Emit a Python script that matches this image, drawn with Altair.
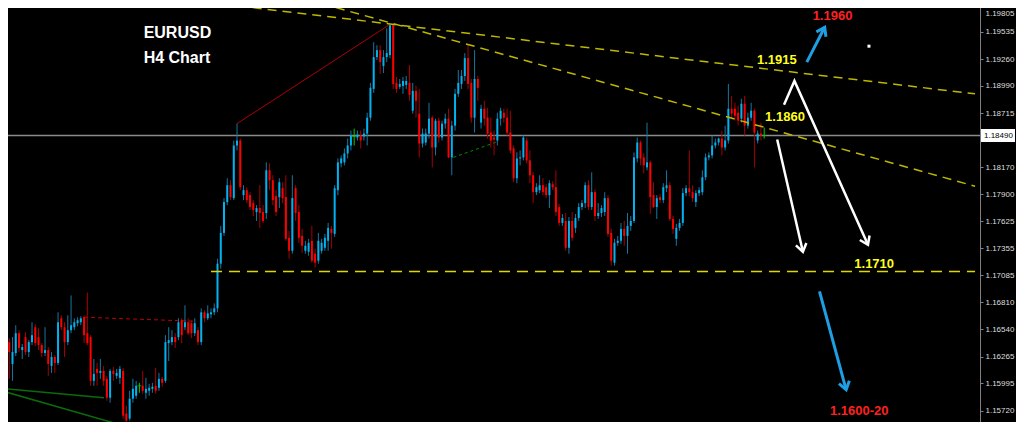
import altair as alt
import pandas as pd

# ---------------- candle data (H4 EURUSD) ----------------
open_ = [
1.1615,1.1641,1.1619,1.1630,1.1650,1.1633,1.1646,1.1631,1.1641,1.1656,
1.1646,1.1638,1.1630,1.1633,1.1617,1.1626,1.1620,1.1665,1.1656,1.1641,
1.1653,1.1656,1.1660,1.1661,1.1666,1.1650,1.1646,1.1602,1.1614,1.1610,
1.1612,1.1604,1.1585,1.1612,1.1607,1.1605,1.1612,1.1569,1.1564,1.1584,
1.1587,1.1597,1.1597,1.1590,1.1592,1.1594,1.1597,1.1595,1.1604,1.1602,
1.1640,1.1641,1.1646,1.1646,1.1663,1.1656,1.1661,1.1660,1.1650,1.1653,
1.1641,1.1671,1.1665,1.1669,1.1671,1.1675,1.1720,1.1751,1.1782,1.1799,
1.1786,1.1839,1.1844,1.1789,1.1794,1.1789,1.1781,1.1772,1.1776,1.1772,
1.1771,1.1814,1.1804,1.1788,1.1787,1.1796,1.1787,1.1746,1.1733,1.1796,
1.1772,1.1748,1.1733,1.1732,1.1743,1.1730,1.1723,1.1733,1.1736,1.1743,
1.1755,1.1750,1.1794,1.1821,1.1822,1.1831,1.1839,1.1848,1.1847,1.1849,
1.1848,1.1851,1.1867,1.1896,1.1928,1.1935,1.1919,1.1928,1.1930,1.1960,
1.1902,1.1898,1.1899,1.1900,1.1902,1.1874,1.1894,1.1871,1.1841,1.1842,
1.1851,1.1867,1.1837,1.1864,1.1847,1.1861,1.1866,1.1827,1.1859,1.1891,
1.1901,1.1909,1.1927,1.1902,1.1867,1.1906,1.1862,1.1876,1.1867,1.1852,
1.1847,1.1844,1.1866,1.1872,1.1867,1.1852,1.1836,1.1806,1.1826,1.1827,
1.1844,1.1824,1.1809,1.1792,1.1794,1.1799,1.1797,1.1789,1.1800,1.1797,
1.1777,1.1761,1.1763,1.1736,1.1763,1.1756,1.1766,1.1777,1.1781,1.1799,
1.1777,1.1792,1.1768,1.1771,1.1772,1.1786,1.1751,1.1721,1.1741,1.1743,
1.1755,1.1748,1.1758,1.1763,1.1826,1.1842,1.1827,1.1817,1.1822,1.1789,
1.1777,1.1787,1.1784,1.1796,1.1799,1.1765,1.1745,1.1756,1.1761,1.1791,
1.1796,1.1792,1.1782,1.1791,1.1792,1.1807,1.1827,1.1829,1.1839,1.1842,
1.1846,1.1837,1.1844,1.1876,1.1876,1.1872,1.1866,1.1881,1.1859,1.1867,
1.1874,1.1844,1.1851,1.1849]
high = [
1.1648,1.1645,1.1646,1.1658,1.1653,1.1639,1.1651,1.1643,1.1661,1.1659,
1.1655,1.1640,1.1656,1.1636,1.1631,1.1628,1.1671,1.1668,1.1661,1.1668,
1.1688,1.1665,1.1666,1.1667,1.1668,1.1691,1.1648,1.1624,1.1620,1.1624,
1.1617,1.1607,1.1614,1.1616,1.1614,1.1617,1.1615,1.1577,1.1592,1.1604,
1.1602,1.1600,1.1612,1.1605,1.1599,1.1600,1.1615,1.1610,1.1606,1.1648,
1.1656,1.1653,1.1650,1.1665,1.1665,1.1678,1.1665,1.1663,1.1665,1.1656,
1.1675,1.1673,1.1678,1.1675,1.1680,1.1725,1.1758,1.1786,1.1806,1.1804,
1.1844,1.1861,1.1846,1.1799,1.1797,1.1792,1.1784,1.1779,1.1799,1.1779,
1.1822,1.1821,1.1809,1.1794,1.1806,1.1802,1.1809,1.1753,1.1809,1.1799,
1.1779,1.1755,1.1743,1.1745,1.1758,1.1735,1.1751,1.1745,1.1750,1.1761,
1.1758,1.1799,1.1826,1.1829,1.1836,1.1846,1.1854,1.1856,1.1854,1.1854,
1.1856,1.1872,1.1902,1.1943,1.1940,1.1940,1.1935,1.1957,1.1961,1.1961,
1.1908,1.1906,1.1908,1.1909,1.1920,1.1902,1.1899,1.1896,1.1856,1.1856,
1.1882,1.1869,1.1866,1.1867,1.1864,1.1871,1.1876,1.1864,1.1896,1.1915,
1.1915,1.1932,1.1940,1.1906,1.1935,1.1909,1.1880,1.1884,1.1877,1.1867,
1.1854,1.1872,1.1877,1.1876,1.1876,1.1874,1.1839,1.1832,1.1834,1.1849,
1.1847,1.1834,1.1812,1.1801,1.1809,1.1806,1.1800,1.1804,1.1803,1.1814,
1.1780,1.1770,1.1771,1.1767,1.1772,1.1770,1.1781,1.1784,1.1802,1.1804,
1.1812,1.1795,1.1781,1.1779,1.1792,1.1789,1.1755,1.1745,1.1748,1.1761,
1.1763,1.1771,1.1768,1.1832,1.1847,1.1844,1.1831,1.1862,1.1824,1.1802,
1.1789,1.1790,1.1801,1.1814,1.1802,1.1768,1.1760,1.1765,1.1796,1.1799,
1.1834,1.1799,1.1794,1.1797,1.1814,1.1831,1.1832,1.1849,1.1846,1.1847,
1.1854,1.1859,1.1901,1.1889,1.1882,1.1879,1.1886,1.1889,1.1872,1.1882,
1.1876,1.1854,1.1862,1.1857]
low = [
1.1610,1.1604,1.1602,1.1627,1.1631,1.1624,1.1628,1.1626,1.1638,1.1637,
1.1633,1.1626,1.1627,1.1607,1.1610,1.1610,1.1618,1.1653,1.1626,1.1638,
1.1650,1.1653,1.1657,1.1658,1.1640,1.1638,1.1597,1.1597,1.1597,1.1604,
1.1597,1.1582,1.1580,1.1602,1.1604,1.1599,1.1564,1.1556,1.1562,1.1580,
1.1584,1.1590,1.1589,1.1584,1.1587,1.1590,1.1589,1.1592,1.1596,1.1600,
1.1622,1.1638,1.1635,1.1643,1.1640,1.1653,1.1648,1.1645,1.1647,1.1638,
1.1638,1.1661,1.1663,1.1665,1.1668,1.1671,1.1715,1.1748,1.1779,1.1784,
1.1784,1.1834,1.1794,1.1784,1.1781,1.1774,1.1768,1.1763,1.1756,1.1761,
1.1765,1.1794,1.1779,1.1768,1.1776,1.1781,1.1743,1.1725,1.1730,1.1763,
1.1741,1.1731,1.1730,1.1728,1.1721,1.1716,1.1720,1.1730,1.1733,1.1733,
1.1735,1.1747,1.1789,1.1817,1.1819,1.1826,1.1834,1.1839,1.1844,1.1836,
1.1844,1.1839,1.1864,1.1892,1.1925,1.1911,1.1912,1.1923,1.1927,1.1896,
1.1892,1.1896,1.1891,1.1896,1.1884,1.1871,1.1867,1.1827,1.1837,1.1839,
1.1846,1.1817,1.1829,1.1842,1.1844,1.1856,1.1826,1.1809,1.1854,1.1888,
1.1896,1.1904,1.1896,1.1862,1.1852,1.1884,1.1856,1.1859,1.1846,1.1837,
1.1829,1.1839,1.1859,1.1862,1.1849,1.1831,1.1802,1.1801,1.1819,1.1824,
1.1821,1.1801,1.1781,1.1789,1.1791,1.1789,1.1786,1.1776,1.1794,1.1768,
1.1758,1.1758,1.1733,1.1730,1.1743,1.1751,1.1763,1.1774,1.1776,1.1774,
1.1774,1.1763,1.1765,1.1767,1.1768,1.1747,1.1718,1.1718,1.1738,1.1740,
1.1738,1.1730,1.1753,1.1761,1.1822,1.1819,1.1811,1.1814,1.1770,1.1776,
1.1765,1.1781,1.1781,1.1792,1.1763,1.1750,1.1738,1.1753,1.1758,1.1788,
1.1788,1.1782,1.1777,1.1788,1.1789,1.1804,1.1824,1.1826,1.1836,1.1839,
1.1829,1.1834,1.1841,1.1866,1.1864,1.1859,1.1862,1.1849,1.1856,1.1864,
1.1817,1.1841,1.1844,1.1846]
close = [
1.1640,1.1631,1.1631,1.1650,1.1635,1.1636,1.1631,1.1641,1.1648,1.1640,
1.1638,1.1630,1.1633,1.1619,1.1626,1.1620,1.1661,1.1656,1.1641,1.1653,
1.1658,1.1661,1.1663,1.1665,1.1648,1.1640,1.1602,1.1609,1.1610,1.1612,
1.1602,1.1585,1.1612,1.1609,1.1610,1.1614,1.1567,1.1562,1.1584,1.1594,
1.1597,1.1597,1.1592,1.1594,1.1595,1.1596,1.1592,1.1604,1.1600,1.1641,
1.1643,1.1646,1.1641,1.1661,1.1648,1.1661,1.1650,1.1650,1.1660,1.1641,
1.1671,1.1665,1.1670,1.1671,1.1675,1.1720,1.1751,1.1782,1.1799,1.1787,
1.1839,1.1844,1.1797,1.1794,1.1784,1.1777,1.1774,1.1776,1.1771,1.1763,
1.1814,1.1804,1.1784,1.1772,1.1802,1.1786,1.1745,1.1733,1.1786,1.1771,
1.1746,1.1738,1.1738,1.1741,1.1723,1.1721,1.1743,1.1741,1.1746,1.1756,
1.1751,1.1796,1.1822,1.1826,1.1831,1.1839,1.1849,1.1848,1.1850,1.1844,
1.1851,1.1867,1.1897,1.1928,1.1935,1.1923,1.1928,1.1932,1.1960,1.1901,
1.1896,1.1901,1.1904,1.1904,1.1890,1.1894,1.1884,1.1841,1.1851,1.1851,
1.1866,1.1837,1.1864,1.1847,1.1861,1.1866,1.1827,1.1859,1.1891,1.1902,
1.1909,1.1927,1.1901,1.1867,1.1906,1.1897,1.1876,1.1866,1.1851,1.1844,
1.1845,1.1866,1.1874,1.1867,1.1852,1.1834,1.1806,1.1826,1.1827,1.1847,
1.1824,1.1809,1.1792,1.1797,1.1799,1.1792,1.1789,1.1801,1.1797,1.1772,
1.1761,1.1766,1.1736,1.1763,1.1746,1.1766,1.1777,1.1781,1.1799,1.1777,
1.1792,1.1768,1.1771,1.1776,1.1786,1.1750,1.1723,1.1741,1.1743,1.1755,
1.1748,1.1758,1.1763,1.1827,1.1842,1.1826,1.1819,1.1822,1.1787,1.1777,
1.1786,1.1784,1.1797,1.1799,1.1765,1.1755,1.1756,1.1761,1.1791,1.1796,
1.1792,1.1786,1.1791,1.1794,1.1807,1.1827,1.1829,1.1839,1.1842,1.1846,
1.1837,1.1844,1.1876,1.1871,1.1869,1.1864,1.1881,1.1859,1.1867,1.1874,
1.1852,1.1851,1.1849,1.1849]

# axis tick labels and current bid
tick_values = [1.19805, 1.19535, 1.19260, 1.18990, 1.18715, 1.18170, 1.17900,
               1.17625, 1.17355, 1.17085, 1.16810, 1.16540, 1.16265, 1.15995, 1.15720, 1.15450]
bid = 1.18490

# drawn objects (bar index, price)
trend_upper = [(57.5, 1.1985), (297.8, 1.1891)]
trend_lower = [(92.5, 1.1986), (297.8, 1.1798)]
support = [(63.0, 1.1712), (297.8, 1.1712)]
red_trend = [(71.0, 1.1861), (118.0, 1.1961)]
red_dotted = [(24.0, 1.1666), (58.4, 1.1662)]
green_dotted = [(137.5, 1.1827), (151.2, 1.1843)]
green_a = [(-0.3, 1.1594), (30.1, 1.1585)]
green_b = [(-0.3, 1.1591), (37.0, 1.1556)]
arrow_blue_up = [(246.1, 1.1923), (251.6, 1.1958)]
arrow_white_peak = [(239.1, 1.1880), (242.3, 1.1904), (264.9, 1.1739)]
arrow_white_down = [(237.0, 1.1845), (244.9, 1.1732)]
arrow_blue_down = [(250.0, 1.1692), (258.2, 1.1593)]
labels = [("1.1960", 254.0, 1.1969, "#ff2020"),
          ("1.1915", 236.9, 1.1925, "#ffff1a"),
          ("1.1860", 239.4, 1.1868, "#ffff1a"),
          ("1.1710", 266.8, 1.1720, "#ffff1a"),
          ("1.1600-20", 262.2, 1.1572, "#ff2020")]
titles = [("EURUSD", 42.3, 1.1952), ("H4 Chart", 42.3, 1.1927)]
dot = [(265.2, 1.1939)]

# ---------------- styling / layout ----------------
W, H = 980, 422
UP, DOWN, FLAT = "#00b2ef", "#ff0000", "#00d000"
UPW, DOWNW = "#1677a2", "#a80000"

xs = alt.Scale(domain=[-0.304, 297.79], nice=False, zero=False)
ys = alt.Scale(domain=[1.156055, 1.19855], nice=False, zero=False)
yaxis = alt.Axis(orient="right", values=tick_values, format=".5f", title=None, grid=False,
                 labelColor="#dedede", labelFont="Liberation Sans", labelFontSize=8,
                 labelPadding=2, tickColor="#808080", tickSize=3, domainColor="#808080",
                 labelFlush=False, labelOverlap=False,
                 labelOffset={"condition": {"test": "datum.value > 1.198", "value": 9},
                              "value": 0})


def X(f):
    return alt.X(f, type="quantitative", scale=xs, axis=None)


def Y(f):
    return alt.Y(f, type="quantitative", scale=ys, axis=yaxis)


df = pd.DataFrame({"t": list(range(len(open_))), "o": open_, "h": high, "l": low, "c": close})
df["body"] = [UP if c > o else (DOWN if c < o else FLAT) for o, c in zip(df.o, df.c)]
df["wick"] = [UPW if c > o else (DOWNW if c < o else FLAT) for o, c in zip(df.o, df.c)]

base = alt.Chart(df)
wicks = base.mark_rule(strokeWidth=1).encode(
    x=X("t"), y=Y("l"), y2="h", color=alt.Color("wick:N", scale=None))
bodies = base.transform_filter("datum.c != datum.o").mark_bar(size=2).encode(
    x=X("t"), y=Y("o"), y2="c", color=alt.Color("body:N", scale=None))
dojis = base.transform_filter("datum.c == datum.o").mark_tick(
    orient="horizontal", size=4, thickness=1, color=FLAT).encode(x=X("t"), y=Y("c"))

bid_df = pd.DataFrame({"p": [bid]})
bid_line = alt.Chart(bid_df).mark_rule(color="#8a8a8a", strokeWidth=1.5).encode(y=Y("p"))
px_per = (1.19855 - 1.156055) / H
box_df = pd.DataFrame({"p": [bid], "p0": [bid - 6.5 * px_per], "p1": [bid + 6.5 * px_per],
                       "lab": [f"{bid:.5f}"]})
box = alt.Chart(box_df).mark_rect(color="white", clip=False).encode(
    x=alt.value(W + 1), x2=alt.value(W + 35), y=Y("p0"), y2="p1")
box_text = alt.Chart(box_df).mark_text(
    color="black", font="Liberation Sans", fontSize=8, align="left", baseline="middle",
    clip=False).encode(x=alt.value(W + 4), y=Y("p"), text="lab:N")


def line(points, color, width, dash=None):
    d = pd.DataFrame({"t": [p[0] for p in points], "p": [p[1] for p in points],
                      "k": list(range(len(points)))})
    kw = dict(color=color, strokeWidth=width, clip=True)
    if dash:
        kw["strokeDash"] = dash
    return alt.Chart(d).mark_line(**kw).encode(x=X("t"), y=Y("p"), order="k:Q")


HEAD = "M -0.62 0.9 L 0 0 L 0.62 0.9"


def head(point, angle, color, width):
    d = pd.DataFrame({"t": [point[0]], "p": [point[1]], "a": [angle]})
    return alt.Chart(d).mark_point(shape=HEAD, filled=False, size=300, color=color,
                                   strokeWidth=width, opacity=1, clip=False).encode(
        x=X("t"), y=Y("p"), angle=alt.Angle("a:Q", scale=None))


BLUE = "#1f9fe3"
layers = [
    bid_line,
    line(green_a, "#0b6b0b", 1.5),
    line(green_b, "#0b6b0b", 1.5),
    line(red_dotted, "#c00000", 1, [4, 3]),
    line(green_dotted, "#0a8a0a", 1, [3, 3]),
    line(red_trend, "#b00000", 1),
    wicks, bodies, dojis,
    line(trend_upper, "#bdb800", 1.5, [9, 6]),
    line(trend_lower, "#bdb800", 1.5, [9, 6]),
    line(support, "#e2d600", 1.5, [11, 7]),
    line(arrow_blue_up, BLUE, 3), head(arrow_blue_up[-1], 27, BLUE, 3),
    line(arrow_white_peak, "white", 2.5), head(arrow_white_peak[-1], 155, "white", 2.5),
    line(arrow_white_down, "white", 2.5), head(arrow_white_down[-1], 167, "white", 2.5),
    line(arrow_blue_down, BLUE, 3), head(arrow_blue_down[-1], 165, BLUE, 3),
]

lab_df = pd.DataFrame({"txt": [l[0] for l in labels], "t": [l[1] for l in labels],
                       "p": [l[2] for l in labels], "col": [l[3] for l in labels]})
layers.append(alt.Chart(lab_df).mark_text(font="Liberation Sans", fontSize=13, fontWeight="bold",
                                          align="center", baseline="middle").encode(
    x=X("t"), y=Y("p"), text="txt:N", color=alt.Color("col:N", scale=None)))
tit_df = pd.DataFrame({"txt": [t[0] for t in titles], "t": [t[1] for t in titles],
                       "p": [t[2] for t in titles]})
layers.append(alt.Chart(tit_df).mark_text(font="Liberation Sans", fontSize=16, fontWeight="bold",
                                          align="left", baseline="middle", color="white").encode(
    x=X("t"), y=Y("p"), text="txt:N"))
dot_df = pd.DataFrame({"t": [d[0] for d in dot], "p": [d[1] for d in dot]})
layers.append(alt.Chart(dot_df).mark_square(size=9, color="white", opacity=1).encode(
    x=X("t"), y=Y("p")))
layers += [box, box_text]

chart = alt.layer(*layers).properties(
    width=W, height=H,
    autosize=alt.AutoSizeParams(type="none"),
    padding={"left": -8, "top": -8, "right": 36, "bottom": 0},
    background="black",
).configure_view(stroke=None)

chart.save("out.html", embed_options={"renderer": "svg", "actions": False})
